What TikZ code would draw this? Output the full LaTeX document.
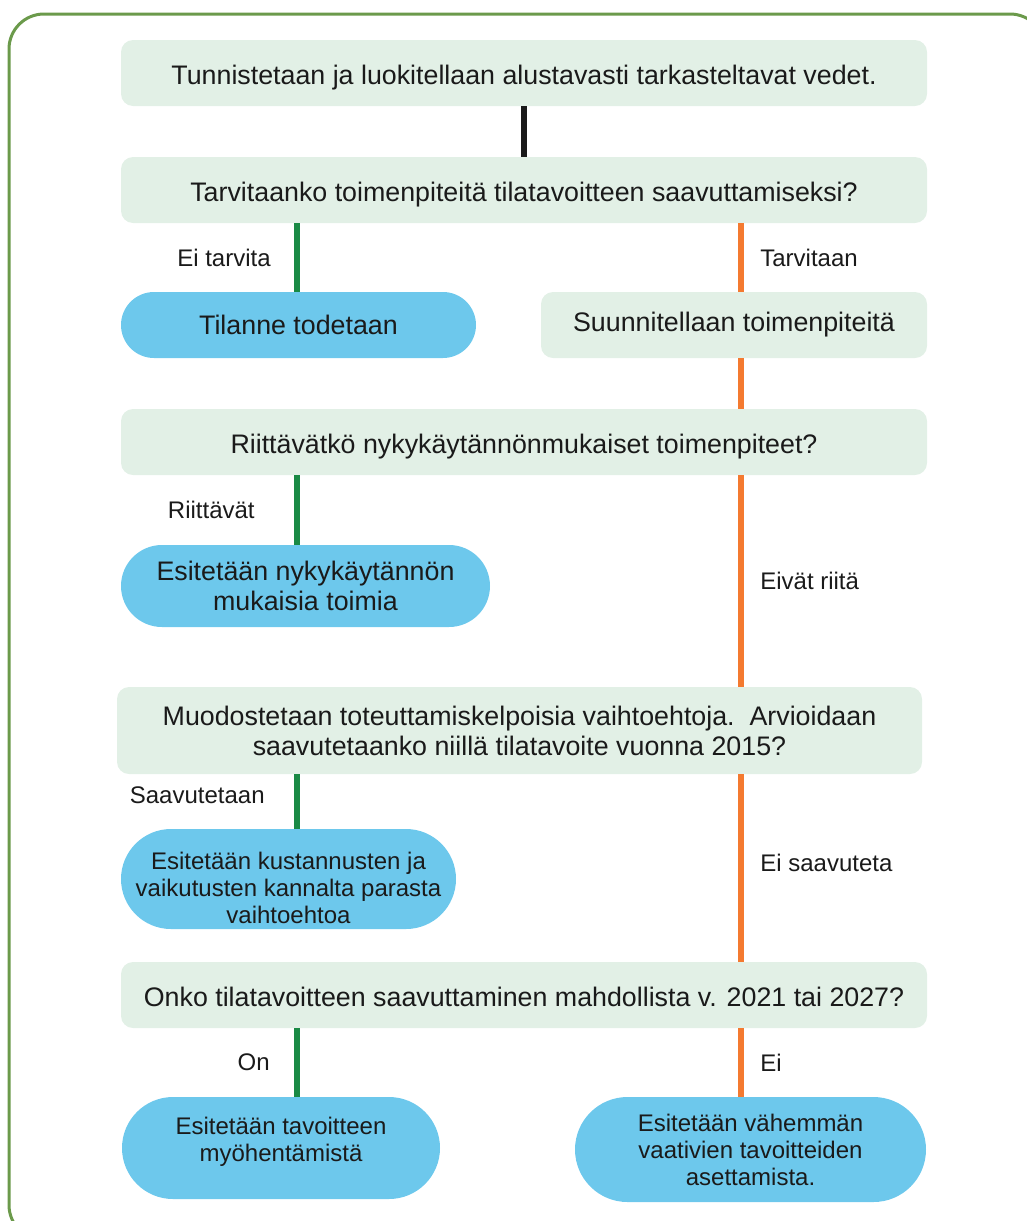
\documentclass[tikz,border=0pt]{standalone}
\usepackage{fontspec}
\setmainfont{Liberation Sans}
\usetikzlibrary{shapes.misc}
\definecolor{vaalea}{HTML}{E2F0E6}
\definecolor{sininen}{HTML}{6DC8EC}
\definecolor{vihrea}{HTML}{1A8A45}
\definecolor{oranssi}{HTML}{F47A30}
\definecolor{kehys}{HTML}{6B9A4B}
\definecolor{teksti}{HTML}{1A1A1A}
\begin{document}
\begin{tikzpicture}[x=1pt,y=-1pt,line join=round,
		laatikko/.style={fill=vaalea,rounded corners=12pt,inner sep=0pt,align=center,text=teksti,font=\fontsize{26.8}{30}\selectfont},
		yksirivi/.style={text height=23pt,text depth=0pt},
		pilleri/.style={rounded rectangle,fill=sininen,inner sep=0pt,align=center,text=teksti,font=\fontsize{26.8}{30}\selectfont},
		pieni/.style={font=\fontsize{24}{27}\selectfont},
		kylla/.style={draw=vihrea,line width=6pt},
		eiviiva/.style={draw=oranssi,line width=6pt},
		selite/.style={text=teksti,font=\fontsize{24}{27}\selectfont}]
	\clip (0,0) rectangle (1027,1221);
	\draw[kehys,line width=3pt,rounded corners=35pt] (9,14) rectangle (1045,1240);
	% sarakkeet
	\coordinate (vasen) at (297,0);
	\coordinate (oikea) at (741,0);
	\node[laatikko,yksirivi,minimum width=806pt,minimum height=66pt] (tunn) at (524,73) {Tunnistetaan ja luokitellaan alustavasti tarkasteltavat vedet.};
	\node[laatikko,yksirivi,minimum width=806pt,minimum height=66pt] (tarv) at (524,190) {Tarvitaanko toimenpiteitä tilatavoitteen saavuttamiseksi?};
	\node[pilleri,minimum width=355pt,minimum height=66pt] (tila) at (298.5,325) {Tilanne todetaan};
	\node[laatikko,minimum width=386pt,minimum height=66pt] (suun) at (734,325) {Suunnitellaan toimenpiteitä};
	\node[laatikko,yksirivi,minimum width=806pt,minimum height=66pt] (riit) at (524,442) {Riittävätkö nykykäytännönmukaiset toimenpiteet?};
	\node[pilleri,minimum width=369pt,minimum height=82pt] (nyky) at (305.5,586) {Esitetään nykykäytännön\\mukaisia toimia};
	\node[laatikko,minimum width=805pt,minimum height=87pt] (muod) at (519.5,730.5) {Muodostetaan toteuttamiskelpoisia vaihtoehtoja.\ \ Arvioidaan\\saavutetaanko niillä tilatavoite vuonna 2015?};
	\node[pilleri,pieni,shape=rectangle,rounded corners=50pt,minimum width=335pt,minimum height=100pt,text height=88pt,text depth=0pt] (kust) at (288.5,879) {Esitetään kustannusten ja\\vaikutusten kannalta parasta\\vaihtoehtoa};
	\node[laatikko,yksirivi,minimum width=806pt,minimum height=66pt] (onko) at (524,995) {Onko tilatavoitteen saavuttaminen mahdollista v. 2021 tai 2027?};
	\node[pilleri,pieni,minimum width=318pt,minimum height=102pt,text depth=18pt] (myoh) at (281,1148) {Esitetään tavoitteen\\myöhentämistä};
	\node[pilleri,pieni,minimum width=351pt,minimum height=105pt] (vahe) at (750.5,1149.5) {Esitetään vähemmän\\vaativien tavoitteiden\\asettamista.};
	% yhteydet
	\draw[draw=teksti,line width=6pt] (tunn.south) -- (tarv.north);
	\draw[kylla] (vasen |- tarv.south) -- (vasen |- tila.north) node[midway,left=20pt,selite] {Ei tarvita};
	\draw[eiviiva] (oikea |- tarv.south) -- (oikea |- suun.north) node[midway,right=13pt,selite] {Tarvitaan};
	\draw[eiviiva] (oikea |- suun.south) -- (oikea |- riit.north);
	\draw[kylla] (vasen |- riit.south) -- (vasen |- nyky.north) node[midway,left=36pt,selite] {Riittävät};
	\draw[eiviiva] (oikea |- riit.south) -- (oikea |- muod.north) node[midway,right=13pt,selite] {Eivät riitä};
	\draw[kylla] (vasen |- muod.south) -- (vasen |- kust.north) node[midway,left=26pt,yshift=6pt,selite] {Saavutetaan};
	\draw[eiviiva] (oikea |- muod.south) -- (oikea |- onko.north) node[midway,right=13pt,yshift=5pt,selite] {Ei saavuteta};
	\draw[kylla] (vasen |- onko.south) -- (vasen |- myoh.north) node[midway,left=21pt,selite] {On};
	\draw[eiviiva] (oikea |- onko.south) -- (oikea |- vahe.north) node[midway,right=13pt,selite] {Ei};
\end{tikzpicture}
\end{document}
